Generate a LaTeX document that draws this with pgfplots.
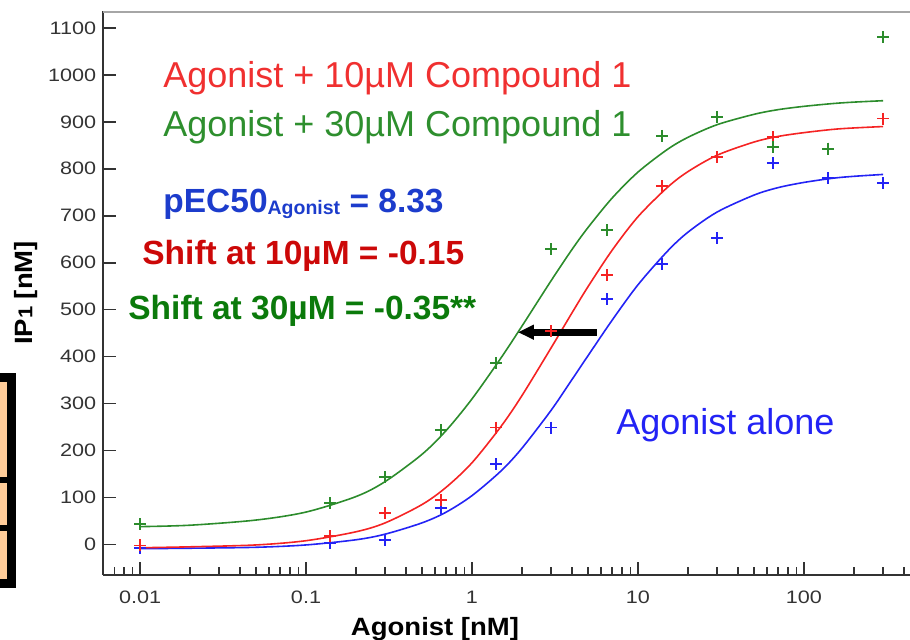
\documentclass[border=0pt]{standalone}
\usepackage{fontspec}
\setmainfont{Liberation Sans}
\newfontfamily\tickfont[FakeStretch=1.2]{Liberation Sans}
\newfontfamily\labfont[FakeStretch=1.1]{Liberation Sans}
\usepackage{pgfplots}
\pgfplotsset{compat=1.18}
\usetikzlibrary{arrows.meta}

\definecolor{cblue}{HTML}{2323F5}
\definecolor{cred}{HTML}{F52323}
\definecolor{cgreen}{HTML}{2C8C2C}
\definecolor{tred}{HTML}{F03030}
\definecolor{tgreen}{HTML}{2E8F2E}
\definecolor{bblue}{HTML}{1C3CCC}
\definecolor{bred}{HTML}{CC0808}
\definecolor{bgreen}{HTML}{0B7A0B}
\definecolor{peach}{HTML}{FFCC99}
\definecolor{axgray}{HTML}{333333}

\begin{document}
\begin{tikzpicture}
\begin{axis}[
  at={(0pt,0pt)}, anchor=south west,
  scale only axis, width=404.6pt, height=281.75pt,
  xmode=log, xmin=0.006, xmax=450, ymin=-65, ymax=1135,
  axis x line*=bottom, axis y line*=left,
  axis line style={-, axgray, line width=1pt},
  xtick={0.01,0.1,1,10,100}, xticklabels={0.01,0.1,1,10,100},
  minor xtick={0.006,0.007,0.008,0.009,0.02,0.03,0.04,0.05,0.06,0.07,0.08,0.09,
    0.2,0.3,0.4,0.5,0.6,0.7,0.8,0.9,2,3,4,5,6,7,8,9,20,30,40,50,60,70,80,90,200,300,400},
  ytick={0,100,...,1100},
  tick align=inside,
  major tick length=6.5pt, minor tick length=4pt,
  tick style={axgray, line width=0.8pt},
  every tick label/.append style={font=\tickfont\fontsize{9}{10}\selectfont, text=axgray},
  xticklabel style={yshift=-4.5pt},
  /pgf/number format/assume math mode=true,
  /pgf/number format/1000 sep={},
]
% blue: agonist alone
\addplot[cblue, line width=0.8pt, smooth, no marks] coordinates {
 (0.01,-9) (0.02,-8) (0.05,-6) (0.1,-1) (0.2,10) (0.3,22) (0.5,46) (0.7,69)
 (1,104) (1.5,157) (2,205) (3,286) (4,351) (5,402) (7,478) (10,553) (15,624)
 (20,665) (30,708) (50,744) (70,760) (100,771) (150,780) (200,784) (300,788)};
\addplot[cblue, only marks, mark=+, mark size=3pt, line width=0.9pt] coordinates {
 (0.01,-8) (0.14,3) (0.3,10) (0.65,77) (1.4,171) (3,249) (6.5,522) (14,597)
 (30,652) (65,812) (140,780) (300,770)};
% red: + 10 uM
\addplot[cred, line width=0.8pt, smooth, no marks] coordinates {
 (0.01,-7) (0.02,-5) (0.05,-1) (0.1,8) (0.2,27) (0.3,46) (0.5,85) (0.7,122)
 (1,174) (1.5,252) (2,317) (3,419) (4,493) (5,549) (7,627) (10,698) (15,760)
 (20,794) (30,829) (50,857) (70,869) (100,877) (150,884) (200,887) (300,890)};
\addplot[cred, only marks, mark=+, mark size=3pt, line width=0.9pt] coordinates {
 (0.01,-2) (0.14,18) (0.3,67) (0.65,94) (1.4,249) (3,454) (6.5,573) (14,763)
 (30,825) (65,867) (140,843) (300,907)};
% green: + 30 uM
\addplot[cgreen, line width=0.8pt, smooth, no marks] coordinates {
 (0.01,38) (0.02,41) (0.05,52) (0.1,69) (0.2,102) (0.3,134) (0.5,192) (0.7,243)
 (1,310) (1.5,398) (2,465) (3,562) (4,628) (5,675) (7,738) (10,793) (15,841)
 (20,867) (30,894) (50,916) (70,926) (100,933) (150,939) (200,942) (300,945)};
\addplot[cgreen, only marks, mark=+, mark size=3pt, line width=0.9pt] coordinates {
 (0.01,43) (0.14,88) (0.3,143) (0.65,243) (1.4,386) (3,629) (6.5,669) (14,870)
 (30,910) (65,846) (140,843) (300,1080)};
% shift arrow and top frame line
\draw[line width=3.5pt, -{Triangle[length=8pt,width=7pt]}] (axis cs:5.66,452) -- (axis cs:1.89,452);
\draw[gray!70, line width=1.5pt] (rel axis cs:0,1) -- (rel axis cs:1,1);
\end{axis}

\node[anchor=base west, inner sep=0, text=tred, font=\fontsize{18}{20}\selectfont] at (29.9pt,243.5pt) {Agonist + 10µM Compound 1};
\node[anchor=base west, inner sep=0, text=tgreen, font=\fontsize{18}{20}\selectfont] at (29.9pt,219pt) {Agonist + 30µM Compound 1};
\node[anchor=base west, inner sep=0, text=bblue, font=\bfseries\fontsize{16.75}{18}\selectfont] at (29.9pt,181pt) {pEC50{\fontsize{9.75}{10}\selectfont\raisebox{-1pt}{Agonist}} = 8.33};
\node[anchor=base west, inner sep=0, text=bred, font=\bfseries\fontsize{16.75}{18}\selectfont] at (19.4pt,155pt) {Shift at 10µM = -0.15};
\node[anchor=base west, inner sep=0, text=bgreen, font=\bfseries\fontsize{16.75}{18}\selectfont] at (12.4pt,127.5pt) {Shift at 30µM = -0.35**};
\node[anchor=base west, inner sep=0, text=cblue, font=\fontsize{18}{20}\selectfont] at (256.4pt,70pt) {Agonist alone};

\node[anchor=base, inner sep=0, font=\labfont\bfseries\fontsize{12.5}{14}\selectfont] at (165.9pt,-30.5pt) {Agonist [nM]};
\node[rotate=90, inner sep=0, font=\labfont\bfseries\fontsize{12.5}{14}\selectfont] at (-38.6pt,141pt) {IP{\fontsize{10}{12}\selectfont 1} [nM]};

% cropped table cells at the left edge
\draw[line width=4.5pt, fill=peach] (-60pt,-4.5pt) rectangle (-46pt,98.9pt);
\draw[line width=3.3pt] (-60pt,47.5pt) -- (-46pt,47.5pt);
\draw[line width=2.8pt] (-60pt,23.5pt) -- (-46pt,23.5pt);

\pgfresetboundingbox
\useasboundingbox (-51.6pt,-32.5pt) rectangle (403.4pt,287.5pt);
\end{tikzpicture}
\end{document}
